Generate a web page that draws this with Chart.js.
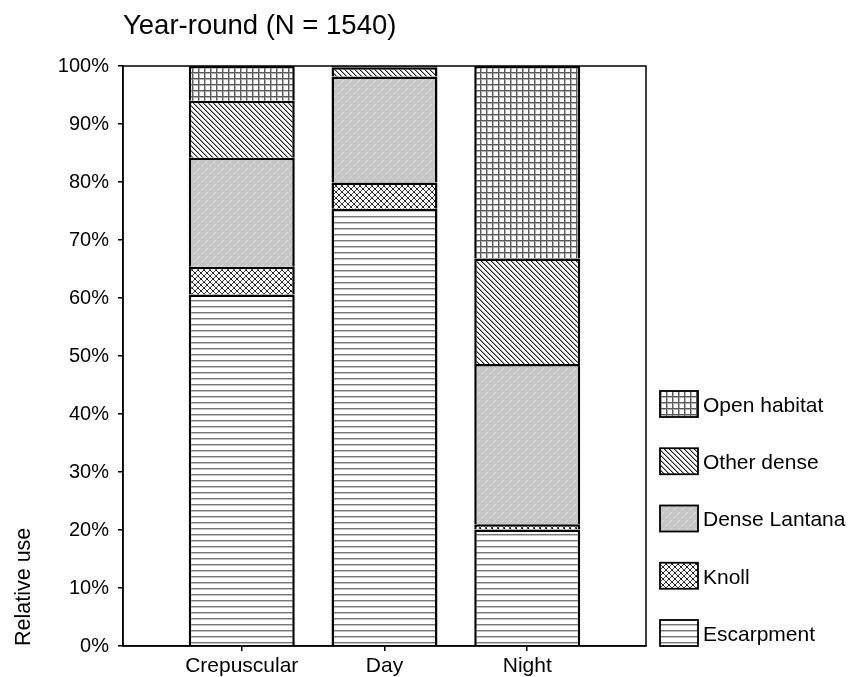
<!DOCTYPE html>
<html>
<head>
<meta charset="utf-8">
<script src="https://cdn.jsdelivr.net/npm/chart.js@4.4.1/dist/chart.umd.min.js"></script>
<style>
  html, body { margin: 0; padding: 0; background: #fff; }
  #wrap { width: 849px; height: 677px; }
</style>
</head>
<body>
<div id="wrap"><canvas id="c" width="849" height="677"></canvas></div>
<script>
// ---- data ----
const categories   = ['Crepuscular', 'Day', 'Night'];
const escarpment   = [60.6, 75.4, 20.1];
const knoll        = [4.8, 4.5, 0.9];
const denseLantana = [18.8, 18.3, 27.6];
const otherDense   = [9.8, 1.6, 18.2];
const openHabitat  = [6.0, 0.2, 33.2];
const seriesNames  = ['Escarpment', 'Knoll', 'Dense Lantana', 'Other dense', 'Open habitat'];
const titleText    = 'Year-round (N = 1540)';
const yTitle       = 'Relative use';

const FONT = '"Liberation Sans", Arial, Helvetica, sans-serif';
Chart.defaults.font.family = FONT;
Chart.defaults.color = '#000';

const canvas = document.getElementById('c');
const ctx0 = canvas.getContext('2d');

function makePattern(w, h, draw) {
  const t = document.createElement('canvas');
  t.width = w; t.height = h;
  const g = t.getContext('2d');
  draw(g, w, h);
  return ctx0.createPattern(t, 'repeat');
}
function px(g, x, y, c) { g.fillStyle = c; g.fillRect(x, y, 1, 1); }

const patEscarpment = makePattern(6, 6, (g, w, h) => {
  g.fillStyle = '#fff'; g.fillRect(0, 0, w, h);
  g.fillStyle = '#777'; g.fillRect(0, 0, w, 1);
  g.fillStyle = '#c4c4c4'; g.fillRect(0, 1, w, 1);
});
const patKnoll = makePattern(6, 6, (g, w, h) => {
  g.fillStyle = '#fff'; g.fillRect(0, 0, w, h);
  for (let i = 0; i < 6; i++) { px(g, i, i, '#444'); px(g, 5 - i, i, '#444'); }
  px(g, 0, 0, '#000'); px(g, 3, 3, '#000'); px(g, 2, 2, '#000');
});
const patLantana = makePattern(8, 8, (g, w, h) => {
  g.fillStyle = '#c6c6c6'; g.fillRect(0, 0, w, h);
  for (let i = 0; i < 8; i++) { if (i % 4 !== 3) px(g, 7 - i, i, '#dcdcdc'); }
});
const patOther = makePattern(5, 5, (g, w, h) => {
  g.fillStyle = '#fff'; g.fillRect(0, 0, w, h);
  for (let i = 0; i < 5; i++) { px(g, i, i, '#222'); px(g, (i + 1) % 5, i, '#a0a0a0'); }
});
const patOpen = makePattern(6, 6, (g, w, h) => {
  g.fillStyle = '#fff'; g.fillRect(0, 0, w, h);
  g.fillStyle = '#b0b0b0'; g.fillRect(0, 1, w, 1); g.fillRect(1, 0, 1, h);
  g.fillStyle = '#5a5a5a'; g.fillRect(0, 0, w, 1); g.fillRect(0, 0, 1, h);
});

const seriesValues = [escarpment, knoll, denseLantana, otherDense, openHabitat];
const seriesFills  = [patEscarpment, patKnoll, patLantana, patOther, patOpen];

const datasets = seriesNames.map((name, s) => ({
  label: name,
  data: categories.map((c, i) => ({ x: i + 1, y: seriesValues[s][i] })),
  backgroundColor: seriesFills[s],
  borderColor: '#000',
  borderWidth: 2.5,
  categoryPercentage: 1,
  barPercentage: 0.7426
}));

const framePlugin = {
  id: 'frame',
  afterDatasetsDraw(chart) {
    const a = chart.chartArea, c = chart.ctx;
    c.save();
    c.strokeStyle = '#000';
    c.lineWidth = 1.5;
    c.strokeRect(a.left, a.top, a.right - a.left, a.bottom - a.top);
    c.restore();
  }
};

const legendPlugin = {
  id: 'sideLegend',
  afterDraw(chart) {
    const a = chart.chartArea, c = chart.ctx;
    const ds = chart.data.datasets;
    const x = a.right + 14, w = 38, h = 26, gap = 57.25;
    c.save();
    c.font = '21px ' + FONT;
    c.textAlign = 'left';
    c.textBaseline = 'middle';
    ds.forEach((d, i) => {
      const y = a.bottom - h - i * gap;
      c.fillStyle = d.backgroundColor;
      c.fillRect(x, y, w, h);
      c.lineWidth = 1.8;
      c.strokeStyle = '#000';
      c.strokeRect(x, y, w, h);
      c.fillStyle = '#000';
      c.fillText(d.label, x + w + 5, y + h / 2 + 2);
    });
    c.restore();
  }
};

new Chart(canvas, {
  type: 'bar',
  data: { datasets },
  plugins: [framePlugin, legendPlugin],
  options: {
    responsive: false,
    animation: false,
    layout: { padding: { top: 10, right: 203, bottom: 0, left: 0 } },
    plugins: {
      legend: { display: false },
      tooltip: { enabled: false },
      title: {
        display: true,
        text: titleText,
        align: 'start',
        fullSize: false,
        color: '#000',
        font: { size: 27.5, weight: 'normal', family: FONT },
        padding: { top: 0, bottom: 23 }
      }
    },
    scales: {
      x: {
        type: 'linear',
        stacked: true,
        offset: false,
        min: 0.168,
        max: 3.832,
        afterBuildTicks(scale) { scale.ticks = categories.map((c, i) => ({ value: i + 1 })); },
        afterFit(scale) { scale.height = 31; },
        ticks: {
          autoSkip: false,
          maxRotation: 0,
          padding: 3,
          color: '#000',
          font: { size: 21, family: FONT },
          callback: (v) => categories[Math.round(v) - 1]
        },
        grid: { display: true, offset: false, drawOnChartArea: false, drawTicks: true, tickLength: 5, color: '#000', lineWidth: 1.5 },
        border: { display: true, color: '#000', width: 1.5 }
      },
      y: {
        stacked: true,
        min: 0,
        max: 100,
        afterFit(scale) { scale.width = 123; },
        ticks: {
          stepSize: 10,
          padding: 9,
          color: '#000',
          font: { size: 20, family: FONT },
          callback: (v) => v + '%'
        },
        title: {
          display: true,
          text: yTitle,
          align: 'start',
          color: '#000',
          font: { size: 21.5, family: FONT },
          padding: { top: 11, bottom: 0 }
        },
        grid: { display: true, drawOnChartArea: false, drawTicks: true, tickLength: 5, color: '#000', lineWidth: 1.5 },
        border: { display: true, color: '#000', width: 1.5 }
      }
    }
  }
});
</script>
</body>
</html>
